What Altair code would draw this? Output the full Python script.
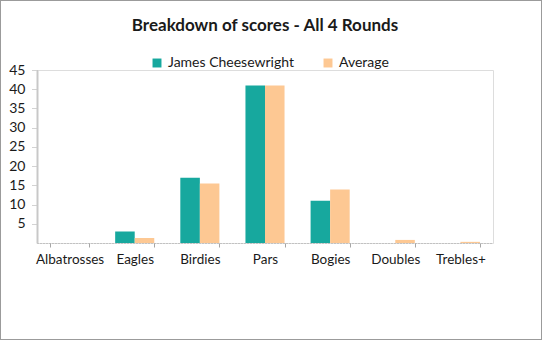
import altair as alt
import pandas as pd

categories = ["Albatrosses", "Eagles", "Birdies", "Pars", "Bogies", "Doubles", "Trebles+"]
james = [0, 3, 17, 41, 11, 0, 0]
average = [0, 1.3, 15.5, 41, 13.9, 0.8, 0.3]
series = ["James Cheesewright", "Average"]
colors = ["#17a89e", "#fdc893"]
y_ticks = [5, 10, 15, 20, 25, 30, 35, 40, 45]

rows = []
for c, j, a in zip(categories, james, average):
    rows.append({"cat": c, "series": series[0], "value": j})
    rows.append({"cat": c, "series": series[1], "value": a})
df = pd.DataFrame(rows)

FONT = "Lato"

bars = alt.Chart(df).mark_bar().encode(
    x=alt.X("cat:N", sort=categories, title=None,
            scale=alt.Scale(paddingInner=0.4, paddingOuter=0.2),
            axis=alt.Axis(labelAngle=0, tickBand="extent", domainColor="#a6a6a6",
                          domainDash=[1, 2], tickColor="#a6a6a6", tickSize=4,
                          labelPadding=5, labelFontSize=13.5, labelColor="#1a1a1a",
                          labelFont=FONT)),
    xOffset=alt.XOffset("series:N", sort=series),
    y=alt.Y("value:Q", title=None,
            scale=alt.Scale(domain=[0, 45], nice=False),
            axis=alt.Axis(values=y_ticks, grid=False, domainColor="#c8c8c8",
                          domainWidth=2, tickColor="#a6a6a6", tickDash=[1, 1],
                          tickSize=5, labelPadding=7, labelFontSize=14,
                          labelColor="#1a1a1a", labelFont=FONT)),
    color=alt.Color("series:N", sort=series,
                    scale=alt.Scale(domain=series, range=colors),
                    legend=alt.Legend(title=None, orient="none", direction="horizontal",
                                      legendX=113, legendY=-14, padding=0,
                                      symbolType="square", symbolSize=80,
                                      symbolStrokeWidth=0, labelFontSize=14,
                                      labelFont=FONT, labelColor="#1a1a1a",
                                      labelOffset=4, columnPadding=27)),
)

border = alt.Chart(df).mark_rect(
    fill=None, stroke="#9a9a9a", strokeDash=[1, 1], strokeWidth=1
).encode(
    x=alt.value(-36.5), x2=alt.value(504.5), y=alt.value(-69.5), y2=alt.value(269.5)
)

chart = alt.layer(border, bars).properties(
    width=456, height=173,
    autosize=alt.AutoSizeParams(type="none"),
    padding={"left": 37, "top": 70, "right": 49, "bottom": 97},
    title=alt.TitleParams("Breakdown of scores - All 4 Rounds", font=FONT,
                          fontSize=17, fontWeight="bold", color="#1a1a1a",
                          anchor="middle", offset=0, dy=35),
).configure_view(stroke=None).configure(background="white")

chart.save("out.html", embed_options={"renderer": "svg", "actions": False})
